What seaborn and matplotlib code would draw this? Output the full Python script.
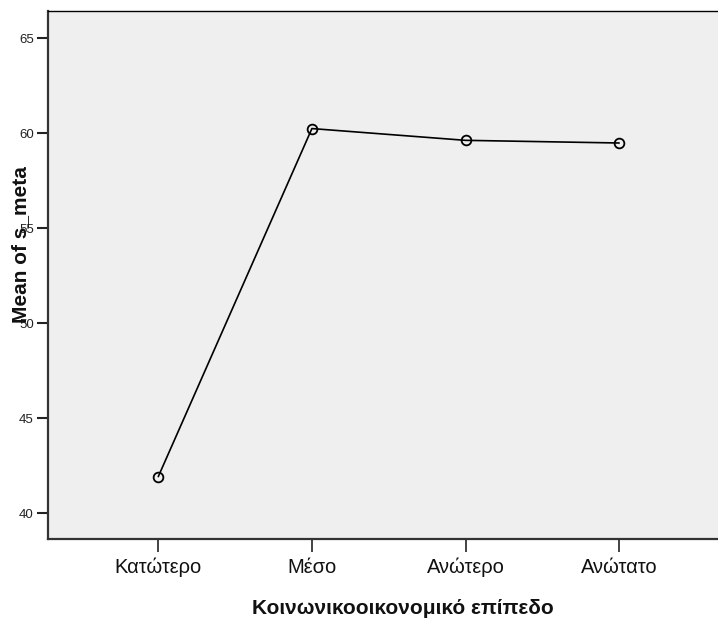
import matplotlib
matplotlib.use("Agg")
import matplotlib.pyplot as plt
import seaborn as sns
import pandas as pd

# Mean of s_meta by socio-economic level
levels = ["Κατώτερο", "Μέσο", "Ανώτερο", "Ανώτατο"]
mean_s_meta = [41.93, 60.25, 59.63, 59.49]
y_ticks = [40, 45, 50, 55, 60, 65]

df = pd.DataFrame({"level": levels, "mean": mean_s_meta})

sns.set_style("white")
plt.rcParams["font.family"] = ["Liberation Sans", "DejaVu Sans"]

fig = plt.figure(figsize=(7.18, 6.27), dpi=100)
ax = fig.add_axes([0.0664, 0.1396, 0.950, 0.8429])
ax.set_facecolor("#efefef")

sns.pointplot(data=df, x="level", y="mean", order=levels, color="black",
              markers="o", linestyles="-", errorbar=None, ax=ax,
              markerfacecolor="none", markeredgecolor="black",
              markersize=7, markeredgewidth=1.3, linewidth=1.2)

ax.set_xlim(-0.72, 3.72)
ax.set_ylim(38.62, 66.44)
ax.set_yticks(y_ticks)
ax.set_yticklabels([str(t) for t in y_ticks], fontsize=9.5, color="#222222")
ax.tick_params(axis="y", left=True, direction="out", length=8, width=1.5,
               color="#222222", pad=2)
ax.tick_params(axis="x", bottom=True, direction="out", length=9, width=1.2,
               color="#222222", labelsize=14.5, labelcolor="#111111", pad=4)
ax.set_xlabel("")
ax.set_ylabel("")

for side in ["left", "bottom"]:
    ax.spines[side].set_color("#333333")
    ax.spines[side].set_linewidth(1.6)
ax.spines["top"].set_color("black")
ax.spines["top"].set_linewidth(1.0)
ax.spines["right"].set_visible(False)

fig.text(403 / 718, 1 - 609 / 627, "Κοινωνικοοικονομικό επίπεδο", ha="center",
         va="center", fontsize=15, fontweight="bold", color="#111111")
fig.text(21 / 718, 1 - 245 / 627, "Mean of s_meta", ha="center", va="center",
         rotation=90, fontsize=15, fontweight="bold", color="#111111")

fig.savefig("out.png", dpi=100)
